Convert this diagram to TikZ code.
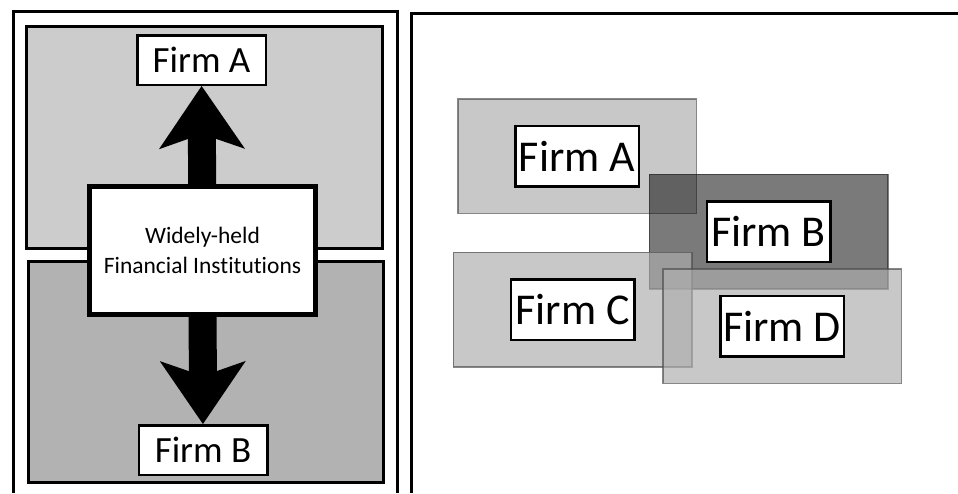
\documentclass[tikz,border=0pt]{standalone}
\usepackage{fontspec}
\setmainfont{Carlito}[Ligatures=NoCommon]
\usetikzlibrary{arrows.meta}

\begin{document}
\begin{tikzpicture}[x=1pt, y=-1pt,
  firm/.style={draw, line width=2.5pt, fill=white, inner sep=0pt},
  smallfirm/.style={firm, minimum width=128.5pt, minimum height=49.5pt, font=\fontsize{37}{42}\selectfont},
  bigfirm/.style={firm, minimum width=123.5pt, minimum height=60.5pt, font=\fontsize{44}{50}\selectfont},
  area/.style={minimum width=238.5pt, minimum height=114.5pt, inner sep=0pt, line width=1.5pt},
  lightarea/.style={area, draw=black!70, fill=black!32, opacity=0.67},
  darkarea/.style={area, draw=black!90, fill=black!95, opacity=0.55},
  bigarrow/.style={line width=28pt, -{Stealth[length=63pt, width=86pt, inset=15pt, line width=0pt]}}]

\useasboundingbox (0,0) rectangle (958,493);

% Left panel - frame and the two gray areas
\draw[line width=3pt] (13.5,493) -- (13.5,11.5) -- (397.5,11.5) -- (397.5,493);
\draw[line width=3pt, fill=black!20] (26.5,26.5) rectangle (382.5,248.5);
\draw[line width=3pt, fill=black!30] (28.5,261.5) rectangle (383.5,482);

% Left panel - firms and institutions
\node[smallfirm] (lA) at (201.5,60) {Firm A};
\node[smallfirm] (lB) at (203,450) {Firm B};
\node[draw, line width=5pt, fill=white, minimum width=226pt, minimum height=128pt,
  align=center, font=\fontsize{23.5}{30}\selectfont] (fi) at (202.5,250.5) {Widely-held\\Financial Institutions};

% Left panel - thick arrows
\draw[bigarrow] (fi) -- (lA);
\draw[bigarrow] (fi) -- (lB);

% Right panel - frame
\draw[line width=3pt] (411.5,493) -- (411.5,13.5) -- (958,13.5);

% Right panel - overlapping areas
\node[lightarea] (rA) at (577,156) {};
\node[darkarea] (rB) at (768.5,231.5) {};
\node[lightarea] (rC) at (572.5,309.5) {};
\node[lightarea] (rD) at (782,326) {};

% Right panel - firm labels
\node[bigfirm] (bA) at (rA) {Firm A};
\node[bigfirm] (bB) at (rB) {Firm B};
\node[bigfirm] (bC) at (rC) {Firm C};
\node[bigfirm] (bD) at (rD) {Firm D};

\end{tikzpicture}
\end{document}
